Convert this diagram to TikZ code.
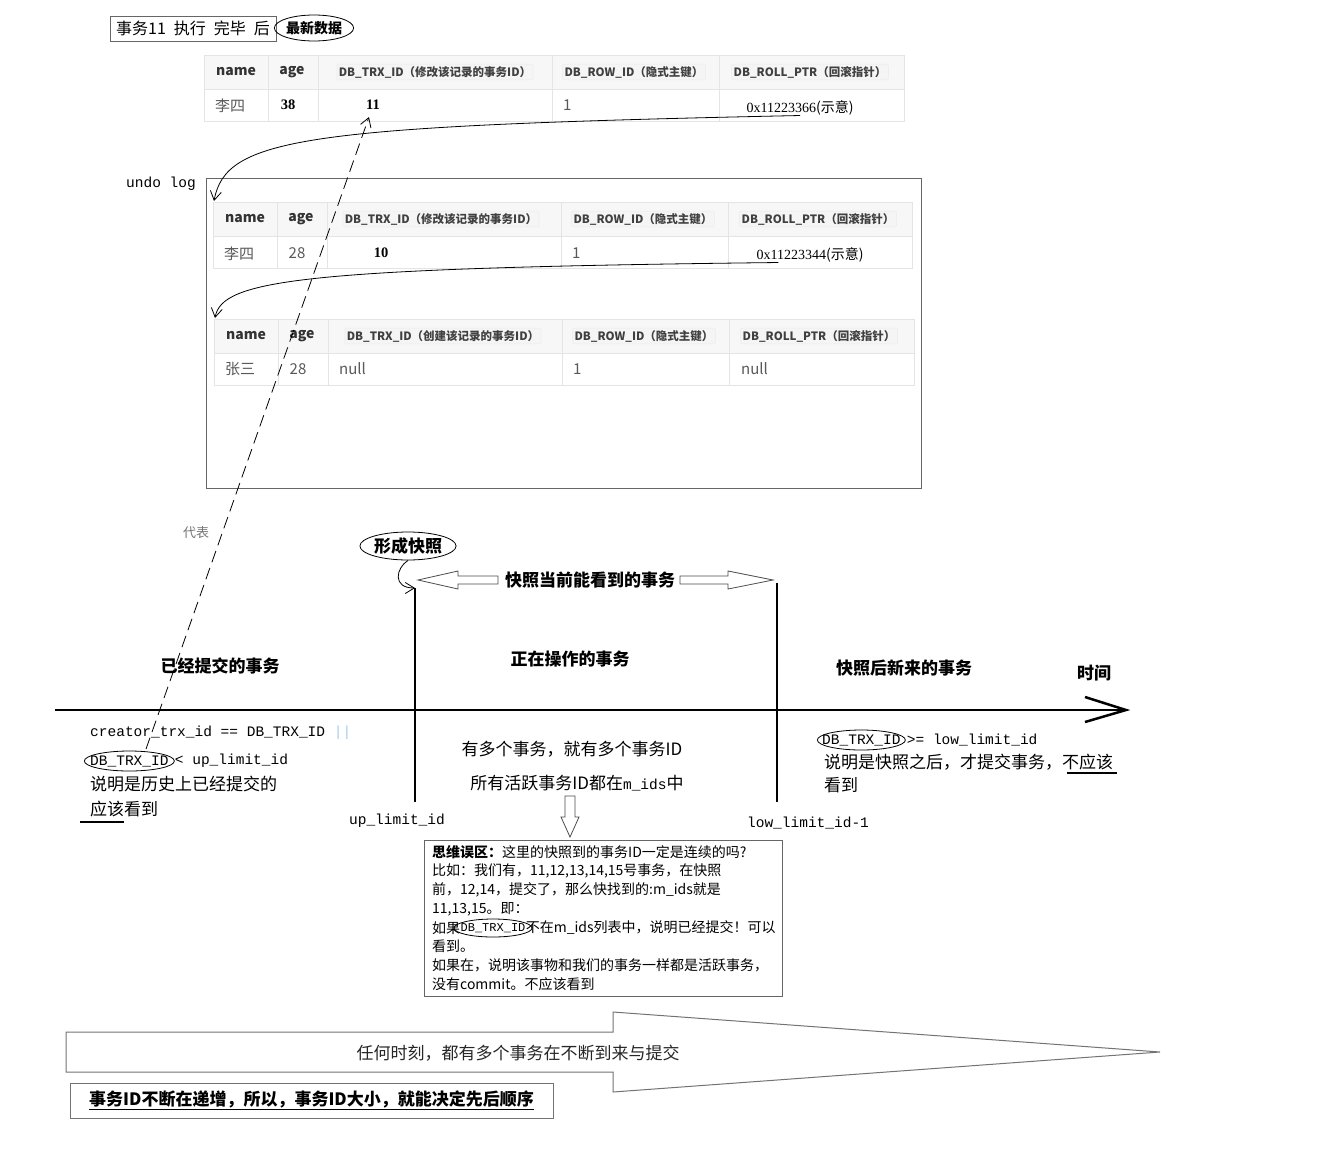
\documentclass[tikz,border=0pt]{standalone}
\usepackage{fontspec}
\setmainfont{Noto Sans CJK SC}
\newfontfamily\codefont{Liberation Mono}
\newfontfamily\numfont{Liberation Serif}
\usetikzlibrary{shapes.geometric,arrows.meta,positioning}
\definecolor{tabgray}{RGB}{228,228,228}
\definecolor{headfill}{RGB}{247,247,247}
\definecolor{orline}{RGB}{160,205,235}
\newcommand\cd[1]{{\codefont\fontsize{14.5}{17}\selectfont #1}}

\begin{document}
\begin{tikzpicture}[x=1pt,y=-1pt,
  txt/.style={inner sep=0pt, font=\fontsize{17}{20}\selectfont},
  btxt/.style={inner sep=0pt, font=\bfseries\fontsize{17}{20}\selectfont},
  code/.style={inner sep=0pt, font=\codefont\fontsize{14.5}{17}\selectfont},
  note/.style={inner sep=0pt, anchor=west, font=\fontsize{14}{17}\selectfont},
  colname/.style={inner sep=0pt, text=black!80, font=\bfseries\fontsize{14}{16}\selectfont},
  hdr/.style={text=black!75, fill=black!4, draw=black!8, rounded corners=1.5pt, inner sep=2pt, font=\bfseries\fontsize{11.5}{13}\selectfont},
  cell/.style={inner sep=0pt, text=black!65, font=\fontsize{15}{17}\selectfont},
  numcell/.style={inner sep=0pt, font=\numfont\bfseries\fontsize{14.5}{17}\selectfont},
  ptrcell/.style={inner sep=0pt, font=\fontsize{14}{17}\selectfont},
  tabline/.style={draw=tabgray, line width=0.8pt},
  frame/.style={draw=black!60, line width=0.9pt},
  oval/.style={ellipse, draw, line width=0.8pt, inner sep=0pt},
  pointer/.style={line width=0.8pt, -{Straight Barb[length=9pt,width=11pt]}},
  axis/.style={line width=2.5pt},
  blockarrow/.style={draw=black!70, line width=0.8pt, fill=white}
]
\useasboundingbox (0,0) rectangle (1337,1151);

% title
\node[frame, inner sep=0pt, minimum width=166pt, minimum height=25pt, font=\fontsize{16}{18}\selectfont] (title) at (193,28.5) {事务11\hspace{8pt}执行\hspace{8pt}完毕\hspace{8pt}后};
\node[oval, minimum height=26pt, font=\bfseries\fontsize{14}{16}\selectfont] (latest) at (314,28) {最新数据};

% undo log frame
\draw[frame] (206,178) rectangle (921,488);
\node[code] (undo) at (161,184) {undo log};

% table grids
\foreach \xa/\xb/\xc/\xd/\xe/\xf/\ya/\yb/\yc in {204/268/318/552/719/904/55/89/121,
    213/277/327/561/728/912/202/236/268, 214/278/328/562/729/914/319/353/385}{
  \fill[headfill] (\xa,\ya) rectangle (\xf,\yb);
  \draw[tabline] (\xa,\ya) rectangle (\xf,\yc) (\xa,\yb) -- (\xf,\yb);
  \foreach \cx in {\xb,\xc,\xd,\xe} \draw[tabline] (\cx,\ya) -- (\cx,\yc);
}

% table 1 (latest)
\node[colname] (n1) at (236,72) {name};
\node[colname] (a1) at (292,72) {age};
\node[hdr] (h1trx) at (435,72) {DB\_TRX\_ID（修改该记录的事务ID）};
\node[hdr] (h1row) at (634,72) {DB\_ROW\_ID（隐式主键）};
\node[hdr] (h1ptr) at (810,72) {DB\_ROLL\_PTR（回滚指针）};
\node[cell] (name1) at (230,106) {李四};
\node[numcell] (age1) at (288,105) {38};
\node[numcell] (trx1) at (373,105) {11};
\node[cell, anchor=west] (row1) at (563,105) {1};
\node[ptrcell] (ptr1) at (800,108) {\numfont 0x11223366\fontspec{Noto Sans CJK SC}(示意)};

% table 2
\node[colname] (n2) at (245,219) {name};
\node[colname] (a2) at (301,219) {age};
\node[hdr] (h2trx) at (441,219) {DB\_TRX\_ID（修改该记录的事务ID）};
\node[hdr] (h2row) at (643,219) {DB\_ROW\_ID（隐式主键）};
\node[hdr] (h2ptr) at (818,219) {DB\_ROLL\_PTR（回滚指针）};
\node[cell] (name2) at (239,254) {李四};
\node[cell] (age2) at (297,253) {28};
\node[numcell] (trx2) at (381,253) {10};
\node[cell, anchor=west] (row2) at (572,253) {1};
\node[ptrcell] (ptr2) at (810,255) {\numfont 0x11223344\fontspec{Noto Sans CJK SC}(示意)};

% table 3
\node[colname] (n3) at (246,336) {name};
\node[colname] (a3) at (302,336) {age};
\node[hdr] (h3trx) at (443,336) {DB\_TRX\_ID（创建该记录的事务ID）};
\node[hdr] (h3row) at (644,336) {DB\_ROW\_ID（隐式主键）};
\node[hdr] (h3ptr) at (819,336) {DB\_ROLL\_PTR（回滚指针）};
\node[cell] (name3) at (240,369) {张三};
\node[cell] (age3) at (298,369) {28};
\node[cell, anchor=west] (trx3) at (339,369) {null};
\node[cell, anchor=west] (row3) at (573,369) {1};
\node[cell, anchor=west] (ptr3) at (741,369) {null};

% roll pointers
\coordinate (tab2corner) at (214,201);
\coordinate (tab3corner) at (215,318);
\draw[pointer] (ptr1.south) .. controls (300,126) and (226,138) .. (tab2corner);
\draw[pointer] ([xshift=22pt]ptr2.south west) .. controls (300,268) and (222,280) .. (tab3corner);

% timeline
\coordinate (tStart) at (55,710);
\coordinate (tEnd) at (1126,710);
\coordinate (upTop) at (415,588);
\coordinate (upBot) at (415,802);
\coordinate (lowTop) at (777,583);
\coordinate (lowBot) at (777,802);
\draw[line width=2pt] (tStart) -- (tEnd);
\draw[axis, line join=miter] (1085,697) -- (tEnd) -- (1085,722);
\draw[axis] (upTop) -- (upBot);
\draw[axis] (lowTop) -- (lowBot);

\node[btxt] (done) at (220,666) {已经提交的事务};
\node[btxt] (active) at (570,659) {正在操作的事务};
\node[btxt] (future) at (904,668) {快照后新来的事务};
\node[btxt] (time) at (1094,673) {时间};

% snapshot
\node[oval, minimum height=28pt, font=\bfseries\fontsize{17}{20}\selectfont] (snap) at (408,546) {形成快照};
\draw[pointer] (snap.south) .. controls (396,568) and (392,588) .. (upTop);
\draw[blockarrow] (498,576) -- (458,576) -- (458,571) -- (418,580) -- (458,589) -- (458,584) -- (498,584) -- cycle;
\draw[blockarrow] (680,576) -- (728,576) -- (728,571) -- (773,580) -- (728,589) -- (728,584) -- (680,584) -- cycle;
\node[btxt] (visible) at (590,580) {快照当前能看到的事务};

% left: committed
\node[code, anchor=west] (crt) at (90,733) {creator\_trx\_id == DB\_TRX\_ID \textcolor{orline}{||}};
\node[code, anchor=west] (trxold) at (90,761) {DB\_TRX\_ID};
\node[code, right=6pt of trxold] (uplt) {< up\_limit\_id};
\draw[line width=0.8pt] (trxold.center) ellipse [x radius=45, y radius=10];
\node[txt, anchor=west] (hist) at (90,784) {说明是历史上已经提交的};
\node[txt, anchor=west] (see) at (90,809) {应该看到};
\draw[line width=1.5pt] (80,822) -- (124,822);
\node[code] (uplab) at (397,821) {up\_limit\_id};

% represents
\coordinate (dashStart) at (146,749);
\coordinate (tip11) at (369,117);
\draw[pointer, dash pattern=on 12pt off 6pt] (dashStart) -- (tip11);
\node[inner sep=0pt, text=black!55, font=\fontsize{13}{15}\selectfont] (rep) at (196,533) {代表};

% middle: active
\node[txt] (many) at (572,749) {有多个事务，就有多个事务ID};
\node[txt] (mids) at (577,783) {所有活跃事务ID都在\cd{m\_ids}中};
\draw[blockarrow] (565,796) -- (575,796) -- (575,817) -- (579,817) -- (570,837) -- (561,817) -- (565,817) -- cycle;
\node[code] (lowlab) at (808,823) {low\_limit\_id-1};

% right: new
\node[code, anchor=west] (trxnew) at (822,740) {DB\_TRX\_ID};
\node[code, right=6pt of trxnew] (lowge) {>= low\_limit\_id};
\draw[line width=0.8pt] (trxnew.center) ellipse [x radius=44, y radius=10];
\node[txt, anchor=west] (after) at (824,762) {说明是快照之后，才提交事务，不应该};
\node[txt, anchor=west] (see2) at (824,785) {看到};
\draw[line width=1.5pt] (1067,773) -- (1117,773);

% thinking trap box
\draw[frame] (424,840) rectangle (782,996);
\node[note] (l1) at (432,852) {\textbf{思维误区：}这里的快照到的事务ID一定是连续的吗?};
\node[note] (l2) at (432,871) {比如：我们有，11,12,13,14,15号事务，在快照};
\node[note] (l3) at (432,890) {前，12,14，提交了，那么快找到的:m\_ids就是};
\node[note] (l4) at (432,909) {11,13,15。即：};
\node[note] (l5a) at (432,928) {如果};
\node[note, font=\codefont\fontsize{12}{14}\selectfont] (l5b) at (l5a.east) {DB\_TRX\_ID};
\node[note] (l5c) at (l5b.east) {不在m\_ids列表中，说明已经提交！可以};
\draw[line width=0.8pt] (l5b.center) ellipse [x radius=39, y radius=9];
\node[note] (l6) at (432,946) {看到。};
\node[note] (l7) at (432,965) {如果在，说明该事物和我们的事务一样都是活跃事务，};
\node[note] (l8) at (432,984) {没有commit。不应该看到};

% bottom
\draw[draw=black!55, line width=1pt, fill=white] (66,1032) -- (613,1032) -- (613,1012) -- (1160,1052) -- (613,1092) -- (613,1072) -- (66,1072) -- cycle;
\node[txt, text=black!85] (always) at (518,1053) {任何时刻，都有多个事务在不断到来与提交};
\node[btxt, draw=black!55, line width=1pt, minimum width=483pt, minimum height=35pt] (order) at (311.5,1100.5) {\underline{事务ID不断在递增，所以，事务ID大小，就能决定先后顺序}};

\end{tikzpicture}
\end{document}
